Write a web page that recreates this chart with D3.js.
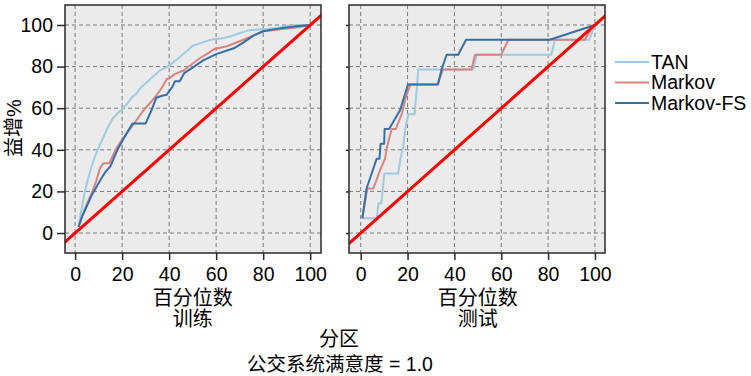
<!DOCTYPE html>
<html>
  <head>
    <meta charset="utf-8" />
    <title>增益图</title>
    <script src="https://d3js.org/d3.v7.min.js"></script>
    <style>
      body {
        margin: 0;
        background: #ffffff;
      }
      text {
        font-family: "Liberation Sans", Arial, "Noto Sans CJK SC", sans-serif;
        fill: #000;
      }
    </style>
  </head>
  <body>
    <div id="chart"></div>
    <script>
      // Series names and tick values
      const seriesNames = ["TAN", "Markov", "Markov-FS"];
      const xTicks = [0, 20, 40, 60, 80, 100];
      const yTicks = [0, 20, 40, 60, 80, 100];

      // Training partition: [percentile, gain %]
      const trainTAN = [
        [1.5, 3], [2.5, 10], [4, 19], [5.5, 26], [7, 32], [8.5, 37], [10, 41],
        [12, 46], [14, 51], [16, 55], [18, 57.5], [20, 59.5], [22, 62], [24, 65],
        [26, 67], [28, 70], [30, 72], [33, 75], [36, 78], [40, 80.5], [44, 84],
        [48, 88], [50, 90], [54, 91.5], [58, 93], [62, 93.5], [66, 94.5],
        [70, 96], [74, 97.5], [80, 98], [86, 98.5], [90, 99.5], [95, 100], [100, 100],
      ];
      const trainMarkov = [
        [1.5, 3], [3, 8], [5, 14], [7, 19], [9, 25], [10.5, 31], [12, 33.5],
        [14.5, 33.5], [16, 37], [17.5, 40.5], [20, 45], [23, 49.5], [26, 54],
        [27.5, 56.5], [29.5, 59.5], [31.5, 62], [34.5, 66], [37, 70], [39, 74],
        [40, 74.3], [42.5, 76.5], [46, 78], [49.5, 81], [53, 84], [56, 86],
        [59, 88.3], [64.5, 89.8], [70, 92.2], [76, 95], [80, 97], [85, 97.6],
        [89, 98.2], [95, 98.9], [100, 100],
      ];
      const trainMarkovFS = [
        [1.5, 3], [3, 8], [5, 13], [7, 18], [9, 22], [11, 26], [13, 29.5],
        [15, 32], [16.5, 36], [18, 40], [19.5, 43], [21, 46], [22.5, 49],
        [24.5, 52.7], [30, 52.7], [32.5, 59], [34.5, 65], [37, 66], [39, 66.5],
        [41.5, 70.5], [42.5, 73], [44.5, 73], [46.5, 77], [50, 79.5], [54.5, 83],
        [60, 86], [64, 87.5], [67.5, 88.8], [71.5, 91.5], [76, 95], [80, 97],
        [85, 98], [90, 98.8], [95, 99.5], [100, 100],
      ];

      // Test partition: [percentile, gain %]
      const testTAN = [
        [0.7, 7.1], [6.8, 7.1], [7.6, 14.3], [8.8, 14.3], [10.1, 28.6], [16, 28.6],
        [17, 35.7], [18.3, 42.9], [19, 50], [20.3, 57.1], [23, 57.1], [24.6, 78.6],
        [48, 78.6], [49.5, 85.7], [81.4, 85.7], [82.9, 92.9], [97.5, 92.9], [100, 100],
      ];
      const testMarkov = [
        [0.7, 7.1], [2.8, 21.4], [5.4, 21.4], [8.2, 30], [10.4, 35.7], [11.1, 40.7],
        [13.2, 50], [15, 50], [17.5, 57.1], [19, 64.3], [21.2, 71.4], [32.7, 71.4],
        [35.2, 78.6], [47.3, 78.6], [48.8, 85.7], [60, 85.7], [63, 92.9],
        [95.7, 92.9], [99.5, 100],
      ];
      const testMarkovFS = [
        [0.7, 7.1], [2.5, 21.4], [5.4, 31], [6.8, 35.7], [8, 35.7], [8.5, 42.9],
        [10, 42.9], [10.2, 50], [12.1, 50], [16.8, 59], [20.2, 71.4], [33, 71.4],
        [34.5, 78.6], [36.7, 85.7], [41.6, 85.7], [45, 92.9], [80.7, 92.9], [100, 100],
      ];

      // Reference (random model) line
      const baseline = [[-10, -10], [110, 110]];

      const colors = ["#9fcae3", "#d8847f", "#3470a6"];

      const width = 751,
        height = 376;

      const svg = d3
        .select("#chart")
        .append("svg")
        .attr("width", width)
        .attr("height", height);

      const y = d3.scaleLinear().domain([-9.6, 109.6]).range([253, 5]);

      const panels = [
        { title: "训练", left: 65, right: 321, domain: [-4.3, 104.6], labels: true, series: [trainTAN, trainMarkov, trainMarkovFS] },
        { title: "测试", left: 349, right: 605, domain: [-5, 104.3], labels: false, series: [testTAN, testMarkov, testMarkovFS] },
      ];

      panels.forEach((p, i) => {
        const x = d3.scaleLinear().domain(p.domain).range([p.left, p.right]);
        const g = svg.append("g");

        // Plot background
        g.append("rect")
          .attr("x", p.left)
          .attr("y", 5)
          .attr("width", p.right - p.left)
          .attr("height", 248)
          .attr("fill", "#ebebeb");

        // Dashed grid
        g.selectAll(".vgrid")
          .data(xTicks)
          .join("line")
          .attr("x1", (d) => x(d))
          .attr("x2", (d) => x(d))
          .attr("y1", 5)
          .attr("y2", 253)
          .attr("stroke", "#7a7a7a")
          .attr("stroke-width", 1)
          .attr("stroke-dasharray", "4,3");
        g.selectAll(".hgrid")
          .data(yTicks)
          .join("line")
          .attr("x1", p.left)
          .attr("x2", p.right)
          .attr("y1", (d) => y(d))
          .attr("y2", (d) => y(d))
          .attr("stroke", "#7a7a7a")
          .attr("stroke-width", 1)
          .attr("stroke-dasharray", "4,3");

        // Clip
        svg.append("clipPath")
          .attr("id", "clip" + i)
          .append("rect")
          .attr("x", p.left)
          .attr("y", 5)
          .attr("width", p.right - p.left)
          .attr("height", 248);

        const line = d3
          .line()
          .x((d) => x(d[0]))
          .y((d) => y(d[1]));

        const plot = g.append("g").attr("clip-path", `url(#clip${i})`);

        p.series.forEach((s, k) => {
          plot.append("path")
            .datum(s)
            .attr("fill", "none")
            .attr("stroke", colors[k])
            .attr("stroke-width", 2)
            .attr("stroke-linejoin", "round")
            .attr("d", line);
        });

        plot.append("path")
          .datum(baseline)
          .attr("fill", "none")
          .attr("stroke", "#ff0000")
          .attr("stroke-width", 3)
          .attr("d", line);

        // Frame
        g.append("rect")
          .attr("x", p.left)
          .attr("y", 5)
          .attr("width", p.right - p.left)
          .attr("height", 248)
          .attr("fill", "none")
          .attr("stroke", "#2a2a2a")
          .attr("stroke-width", 1.5);

        // X axis
        const xAxis = g
          .append("g")
          .attr("transform", "translate(0,253)")
          .call(d3.axisBottom(x).tickValues(xTicks).tickSize(7).tickPadding(7));
        xAxis.select(".domain").remove();
        xAxis.selectAll("line").attr("stroke", "#2a2a2a").attr("stroke-width", 1.5);
        xAxis.selectAll("text").style("font-size", "19.5px").attr("fill", "#000");

        // Y axis
        const yAxis = g
          .append("g")
          .attr("transform", `translate(${p.left},0)`)
          .call(
            d3
              .axisLeft(y)
              .tickValues(yTicks)
              .tickSize(p.labels ? 8 : 3)
              .tickPadding(4)
              .tickFormat(p.labels ? d3.format("d") : () => "")
          );
        yAxis.select(".domain").remove();
        yAxis.selectAll("line").attr("stroke", "#2a2a2a").attr("stroke-width", 1.5);
        yAxis.selectAll("text").style("font-size", "19.5px").attr("fill", "#000");

        // Axis titles under each panel
        const cx = (x(0) + x(100)) / 2;
        g.append("text")
          .attr("x", cx)
          .attr("y", 305)
          .attr("text-anchor", "middle")
          .style("font-size", "20px")
          .text("百分位数");
        g.append("text")
          .attr("x", cx)
          .attr("y", 326)
          .attr("text-anchor", "middle")
          .style("font-size", "20px")
          .text(p.title);
      });

      // Y axis label
      svg.append("text")
        .attr("transform", "translate(21,128) rotate(-90)")
        .attr("text-anchor", "middle")
        .style("font-size", "20px")
        .text("益增%");

      // Bottom titles
      svg.append("text")
        .attr("x", 339)
        .attr("y", 346)
        .attr("text-anchor", "middle")
        .style("font-size", "20px")
        .text("分区");
      svg.append("text")
        .attr("x", 340)
        .attr("y", 371)
        .attr("text-anchor", "middle")
        .style("font-size", "19.5px")
        .text("公交系统满意度 = 1.0");

      // Legend
      const legend = svg
        .append("g")
        .selectAll("g")
        .data(seriesNames)
        .join("g")
        .attr("transform", (d, i) => `translate(615,${62 + i * 20.5})`);
      legend
        .append("line")
        .attr("x1", 0)
        .attr("x2", 34)
        .attr("stroke", (d, i) => colors[i])
        .attr("stroke-width", 2);
      legend
        .append("text")
        .attr("x", 36)
        .attr("dy", "0.35em")
        .style("font-size", "19.5px")
        .text((d) => d);
    </script>
  </body>
</html>
